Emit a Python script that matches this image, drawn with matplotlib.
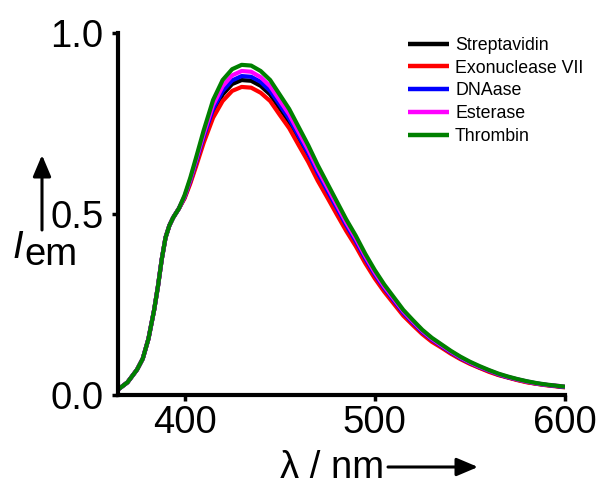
import matplotlib
matplotlib.use("Agg")
import matplotlib.pyplot as plt

plt.rcParams['font.family'] = ['Liberation Sans', 'DejaVu Sans']

# emission wavelengths (nm)
wavelength = [365, 370, 375, 378, 381, 384, 386, 388, 390, 392, 394, 397, 400,
              403, 406, 410, 415, 420, 425, 430, 435, 440, 445, 450, 455, 460,
              465, 470, 475, 480, 485, 490, 495, 500, 505, 510, 515, 520, 525,
              530, 535, 540, 545, 550, 555, 560, 565, 570, 575, 580, 585, 590,
              595, 600]

# rising edge shared by all samples up to ~397 nm
streptavidin = [0.015, 0.035, 0.070, 0.100, 0.155, 0.235, 0.300, 0.375, 0.435,
                0.468, 0.490, 0.515, 0.546, 0.589, 0.638, 0.706, 0.781, 0.830,
                0.859, 0.870, 0.868, 0.854, 0.830, 0.792, 0.754, 0.706, 0.658,
                0.606, 0.558, 0.510, 0.463, 0.420, 0.372, 0.329, 0.291, 0.258,
                0.224, 0.197, 0.172, 0.151, 0.134, 0.116, 0.101, 0.088, 0.076,
                0.066, 0.056, 0.049, 0.042, 0.036, 0.031, 0.028, 0.025, 0.022]

exonuclease = [0.015, 0.035, 0.070, 0.100, 0.155, 0.235, 0.300, 0.375, 0.435,
               0.468, 0.490, 0.515, 0.543, 0.584, 0.631, 0.696, 0.766, 0.812,
               0.840, 0.851, 0.849, 0.835, 0.812, 0.774, 0.737, 0.690, 0.644,
               0.592, 0.546, 0.499, 0.453, 0.411, 0.364, 0.322, 0.285, 0.252,
               0.219, 0.193, 0.168, 0.147, 0.131, 0.114, 0.099, 0.086, 0.075,
               0.064, 0.055, 0.048, 0.041, 0.035, 0.031, 0.027, 0.024, 0.021]

dnaase = [0.015, 0.035, 0.070, 0.100, 0.155, 0.235, 0.300, 0.375, 0.435,
          0.468, 0.490, 0.515, 0.547, 0.592, 0.643, 0.713, 0.790, 0.840,
          0.869, 0.881, 0.879, 0.865, 0.840, 0.802, 0.763, 0.715, 0.667,
          0.613, 0.565, 0.517, 0.469, 0.425, 0.377, 0.333, 0.295, 0.261,
          0.227, 0.200, 0.174, 0.153, 0.135, 0.118, 0.102, 0.089, 0.077,
          0.067, 0.057, 0.049, 0.043, 0.037, 0.032, 0.028, 0.025, 0.022]

esterase = [0.015, 0.035, 0.070, 0.100, 0.155, 0.235, 0.300, 0.375, 0.435,
            0.468, 0.490, 0.515, 0.549, 0.595, 0.648, 0.720, 0.801, 0.853,
            0.883, 0.895, 0.893, 0.878, 0.853, 0.814, 0.775, 0.726, 0.677,
            0.623, 0.574, 0.525, 0.476, 0.432, 0.383, 0.338, 0.299, 0.265,
            0.231, 0.203, 0.177, 0.155, 0.137, 0.120, 0.104, 0.090, 0.078,
            0.068, 0.058, 0.050, 0.043, 0.037, 0.032, 0.028, 0.026, 0.023]

thrombin = [0.015, 0.035, 0.070, 0.100, 0.155, 0.235, 0.300, 0.375, 0.435,
            0.468, 0.490, 0.515, 0.552, 0.600, 0.655, 0.730, 0.815, 0.870,
            0.900, 0.912, 0.910, 0.895, 0.870, 0.830, 0.790, 0.740, 0.690,
            0.635, 0.585, 0.535, 0.485, 0.440, 0.390, 0.345, 0.305, 0.270,
            0.235, 0.207, 0.180, 0.158, 0.140, 0.122, 0.106, 0.092, 0.080,
            0.069, 0.059, 0.051, 0.044, 0.038, 0.033, 0.029, 0.026, 0.023]

series = [
    ("Streptavidin", streptavidin, "black"),
    ("Exonuclease VII", exonuclease, "#ff0000"),
    ("DNAase", dnaase, "#0000ff"),
    ("Esterase", esterase, "#ff00ff"),
    ("Thrombin", thrombin, "#008000"),
]

W, H = 601, 488
FS = 27.5
fig = plt.figure(figsize=(W / 100, H / 100), dpi=100)
ax = fig.add_axes([118 / W, 1 - 395 / H, (565 - 118) / W, (395 - 33) / H])

for name, vals, color in series:
    ax.plot(wavelength, vals, color=color, lw=3.0, label=name,
            solid_joinstyle='round', solid_capstyle='butt')

ax.set_xlim(365, 600)
ax.set_ylim(0, 1.0)
ax.set_xticks([400, 500, 600])
ax.set_yticks([0.0, 0.5, 1.0])
ax.set_yticklabels(["0.0", "0.5", "1.0"])

for side in ("top", "right"):
    ax.spines[side].set_visible(False)
for side in ("left", "bottom"):
    ax.spines[side].set_linewidth(3)
ax.tick_params(axis='both', direction='out', length=4.5, width=2.5,
               labelsize=FS, color='black')
ax.tick_params(axis='y', pad=6)
ax.tick_params(axis='x', pad=3)

arrow_style = dict(arrowstyle='-|>,head_length=1.3,head_width=0.55',
                   color='black', lw=2.2, shrinkA=0, shrinkB=0)

# x-axis label with arrow
fig.text(280 / W, 1 - 478 / H, "λ / nm", fontsize=FS, ha='left',
         va='baseline')
ax.annotate("", xy=(478 / W, 1 - 467 / H), xycoords='figure fraction',
            xytext=(388 / W, 1 - 467 / H), textcoords='figure fraction',
            arrowprops=arrow_style)

# y-axis label with arrow
fig.text(12 / W, 1 - 258 / H, "I", fontsize=FS, style='italic',
         ha='left', va='baseline')
fig.text(24 / W, 1 - 265 / H, "em", fontsize=FS, ha='left', va='baseline')
ax.annotate("", xy=(42 / W, 1 - 155 / H), xycoords='figure fraction',
            xytext=(42 / W, 1 - 230 / H), textcoords='figure fraction',
            arrowprops=arrow_style)

leg = ax.legend(loc='upper left', bbox_to_anchor=(408 / W, 1 - 37 / H),
                bbox_transform=fig.transFigure, frameon=False, fontsize=12.8,
                handlelength=2.3, handletextpad=0.35, labelspacing=0.32,
                borderpad=0, borderaxespad=0)
for line in leg.get_lines():
    line.set_linewidth(3.2)

fig.savefig("out.png", dpi=100)
